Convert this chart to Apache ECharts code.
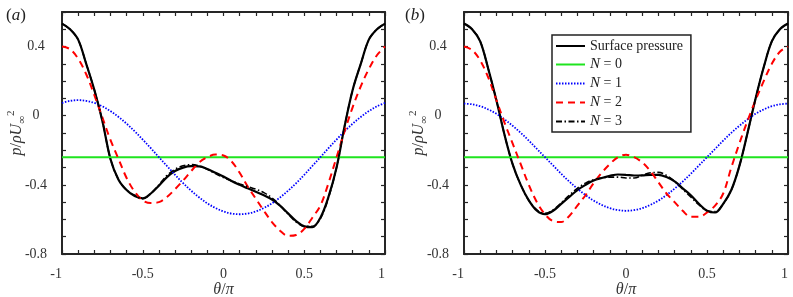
<!DOCTYPE html>
<html>
<head>
<meta charset="utf-8">
<script src="https://cdn.jsdelivr.net/npm/echarts@6/dist/echarts.min.js"></script>
<style>
html,body{margin:0;padding:0;background:#fff;}
#chart{width:793px;height:297px;}
</style>
</head>
<body>
<div id="chart"></div>
<script>
// ---- data ----
var theta = [-1,-0.95,-0.9,-0.85,-0.8,-0.75,-0.7,-0.65,-0.6,-0.55,-0.5,-0.45,-0.4,-0.35,-0.3,-0.25,-0.2,-0.15,-0.1,-0.05,0,0.05,0.1,0.15,0.2,0.25,0.3,0.35,0.4,0.45,0.5,0.55,0.6,0.65,0.7,0.75,0.8,0.85,0.9,0.95,1];
var thetaEnds = [-1, 1];

// panel (a)
var surfA = [0.533,0.50,0.44,0.30,0.15,-0.03,-0.25,-0.37,-0.43,-0.465,-0.478,-0.45,-0.405,-0.355,-0.32,-0.30,-0.292,-0.293,-0.308,-0.33,-0.352,-0.378,-0.40,-0.42,-0.44,-0.46,-0.485,-0.52,-0.565,-0.61,-0.64,-0.645,-0.59,-0.47,-0.30,-0.06,0.15,0.30,0.44,0.50,0.533];
var n0A = [-0.24, -0.24];
var n1A = [0.074,0.086,0.09,0.086,0.074,0.054,0.027,-0.007,-0.046,-0.09,-0.138,-0.188,-0.24,-0.291,-0.342,-0.39,-0.434,-0.473,-0.507,-0.534,-0.554,-0.566,-0.57,-0.566,-0.554,-0.534,-0.507,-0.473,-0.434,-0.39,-0.342,-0.291,-0.24,-0.188,-0.138,-0.09,-0.046,-0.007,0.027,0.054,0.074];
var n2A = [0.40,0.385,0.33,0.24,0.12,-0.01,-0.14,-0.25,-0.36,-0.44,-0.49,-0.505,-0.50,-0.47,-0.425,-0.375,-0.32,-0.27,-0.24,-0.225,-0.23,-0.265,-0.33,-0.41,-0.48,-0.55,-0.615,-0.665,-0.695,-0.69,-0.655,-0.59,-0.52,-0.39,-0.24,-0.09,0.05,0.17,0.27,0.35,0.40];
var n3A = [0.533,0.50,0.44,0.30,0.15,-0.03,-0.25,-0.37,-0.43,-0.46,-0.48,-0.45,-0.40,-0.345,-0.31,-0.29,-0.283,-0.29,-0.31,-0.335,-0.358,-0.378,-0.395,-0.41,-0.425,-0.445,-0.475,-0.52,-0.57,-0.615,-0.64,-0.64,-0.595,-0.475,-0.30,-0.06,0.15,0.30,0.44,0.50,0.533];

// panel (b)
var surfB = [0.533,0.50,0.43,0.27,0.09,-0.11,-0.28,-0.40,-0.49,-0.55,-0.57,-0.55,-0.51,-0.47,-0.43,-0.40,-0.375,-0.36,-0.348,-0.34,-0.342,-0.346,-0.345,-0.342,-0.342,-0.355,-0.38,-0.42,-0.46,-0.51,-0.55,-0.56,-0.51,-0.43,-0.29,-0.10,0.10,0.28,0.43,0.50,0.533];
var n0B = [-0.24, -0.24];
var n1B = [0.07,0.066,0.055,0.036,0.011,-0.021,-0.058,-0.099,-0.144,-0.192,-0.24,-0.288,-0.336,-0.381,-0.422,-0.459,-0.491,-0.516,-0.535,-0.546,-0.55,-0.546,-0.535,-0.516,-0.491,-0.459,-0.422,-0.381,-0.336,-0.288,-0.24,-0.192,-0.144,-0.099,-0.058,-0.021,0.011,0.036,0.055,0.066,0.07];
var n2B = [0.40,0.38,0.32,0.22,0.09,-0.04,-0.16,-0.28,-0.40,-0.50,-0.57,-0.61,-0.615,-0.58,-0.52,-0.46,-0.39,-0.33,-0.28,-0.24,-0.226,-0.24,-0.27,-0.32,-0.385,-0.45,-0.50,-0.55,-0.585,-0.585,-0.56,-0.52,-0.45,-0.30,-0.16,-0.03,0.09,0.20,0.30,0.37,0.40];
var n3B = [0.533,0.50,0.43,0.27,0.09,-0.11,-0.28,-0.40,-0.49,-0.545,-0.565,-0.545,-0.505,-0.46,-0.42,-0.39,-0.37,-0.36,-0.355,-0.355,-0.36,-0.36,-0.345,-0.33,-0.328,-0.345,-0.38,-0.425,-0.47,-0.515,-0.55,-0.555,-0.51,-0.43,-0.29,-0.10,0.10,0.28,0.43,0.50,0.533];

var seriesNames = ['Surface pressure', 'N = 0', 'N = 1', 'N = 2', 'N = 3'];
var xTickLabels = [-1, -0.5, 0, 0.5, 1];
var yTickLabels = [-0.8, -0.4, 0, 0.4];
var panelLabels = ['a', 'b'];

// ---- chart ----
var FONT = '"Liberation Serif", "DejaVu Serif", serif';
var AXC = '#262626';
var TXT = '#333';

function pairs(xs, ys) { return xs.map(function (x, i) { return [x, ys[i]]; }); }
function inList(v, list) { return list.some(function (t) { return Math.abs(t - v) < 1e-6; }); }
function fmt(v) { var r = Math.round(v * 10) / 10; return r === 0 ? '0' : String(r); }

var styles = [
  { color: '#000000', width: 2.2, type: 'solid' },
  { color: '#1fe41f', width: 2, type: 'solid' },
  { color: '#0000ff', width: 1.8, type: [1.5, 1.5] },
  { color: '#ff0000', width: 2, type: [7, 5] },
  { color: '#000000', width: 1.6, type: [6, 2.5, 1.5, 2.5] }
];

var grids = [
  { left: 62, right: 408, top: 12, bottom: 43, containLabel: false, outerBoundsMode: 'none' },
  { left: 464, right: 5, top: 12, bottom: 43, containLabel: false, outerBoundsMode: 'none' }
];

var xAxes = [], yAxes = [];
grids.forEach(function (g, gi) {
  var common = {
    gridIndex: gi, type: 'value', min: -1, max: 1, interval: 0.1,
    axisLine: { show: true, onZero: false, lineStyle: { color: AXC, width: 2 } },
    axisTick: { show: true, inside: true, length: 4, lineStyle: { color: AXC, width: 1.2 } },
    splitLine: { show: false }
  };
  xAxes.push(Object.assign({}, common, {
    position: 'bottom',
    name: '{i|θ}/{i|π}', nameLocation: 'middle', nameGap: 28, nameMoveOverlap: false,
    nameTextStyle: { fontFamily: FONT, fontSize: 16, color: TXT,
      rich: { i: { fontFamily: FONT, fontSize: 16, fontStyle: 'italic', color: TXT } } },
    axisLabel: { show: true, margin: 13, color: TXT, fontFamily: FONT, fontSize: 14,
      showMinLabel: true, showMaxLabel: true, alignMinLabel: 'right', alignMaxLabel: 'right',
      formatter: function (v) { return inList(v, xTickLabels) ? fmt(v) : ''; } }
  }));
  xAxes.push(Object.assign({}, common, { position: 'top', axisLabel: { show: false } }));

  var ycommon = {
    gridIndex: gi, type: 'value', min: -0.8, max: 0.6, interval: 0.1,
    axisLine: { show: true, onZero: false, lineStyle: { color: AXC, width: 2 } },
    axisTick: { show: true, inside: true, length: 4, lineStyle: { color: AXC, width: 1.2 } },
    splitLine: { show: false }
  };
  yAxes.push(Object.assign({}, ycommon, {
    position: 'left',
    name: '{i|p}/{i|ρU}{sub|∞}{sup|2}', nameLocation: 'middle', nameGap: 34, nameMoveOverlap: false,
    nameTextStyle: { fontFamily: FONT, fontSize: 16, color: TXT, lineHeight: 22,
      rich: {
        i: { fontFamily: FONT, fontSize: 16, fontStyle: 'italic', color: TXT, lineHeight: 22 },
        sup: { fontFamily: FONT, fontSize: 11, color: TXT, verticalAlign: 'top', lineHeight: 22 },
        sub: { fontFamily: FONT, fontSize: 11, color: TXT, verticalAlign: 'bottom', lineHeight: 22 }
      } },
    axisLabel: { show: true, margin: 26, align: 'center', color: TXT, fontFamily: FONT, fontSize: 14,
      showMinLabel: true, showMaxLabel: true,
      formatter: function (v) { return inList(v, yTickLabels) ? fmt(v) : ''; } }
  }));
  yAxes.push(Object.assign({}, ycommon, { position: 'right', axisLabel: { show: false } }));
});

var panelData = [
  [surfA, n0A, n1A, n2A, n3A],
  [surfB, n0B, n1B, n2B, n3B]
];

var series = [];
panelData.forEach(function (arrs, gi) {
  arrs.forEach(function (ys, si) {
    var xs = ys.length === 2 ? thetaEnds : theta;
    var st = styles[si];
    series.push({
      type: 'line', name: seriesNames[si],
      xAxisIndex: gi * 2, yAxisIndex: gi * 2,
      data: pairs(xs, ys),
      smooth: 0.35, symbol: 'none', showSymbol: false, silent: true, animation: false,
      itemStyle: { color: st.color },
      lineStyle: { color: st.color, width: st.width, type: st.type }
    });
  });
});

var chart = echarts.init(document.getElementById('chart'), null, { renderer: 'canvas' });
chart.setOption({
  animation: false,
  backgroundColor: '#ffffff',
  title: panelLabels.map(function (p, i) {
    return {
      text: '({i|' + p + '})', left: i === 0 ? 1 : 400, top: 2,
      textStyle: { fontFamily: FONT, fontSize: 17, fontWeight: 'normal', color: '#222',
        rich: { i: { fontFamily: FONT, fontSize: 17, fontStyle: 'italic', color: '#222' } } }
    };
  }),
  grid: grids,
  xAxis: xAxes,
  yAxis: yAxes,
  legend: {
    show: true, orient: 'vertical', left: 552, top: 35,
    data: seriesNames,
    itemWidth: 29, itemHeight: 14, itemGap: 4,
    padding: [4, 8, 3, 3],
    backgroundColor: '#ffffff', borderColor: '#222', borderWidth: 1.5, borderRadius: 0,
    selectedMode: false,
    itemStyle: { opacity: 0, borderWidth: 0 },
    textStyle: { fontFamily: FONT, fontSize: 14, color: '#222',
      rich: { i: { fontFamily: FONT, fontSize: 15, fontStyle: 'italic', color: '#222' } } },
    formatter: function (name) { return name.charAt(0) === 'N' ? '{i|N}' + name.slice(1) : name; }
  },
  series: series
});
</script>
</body>
</html>
